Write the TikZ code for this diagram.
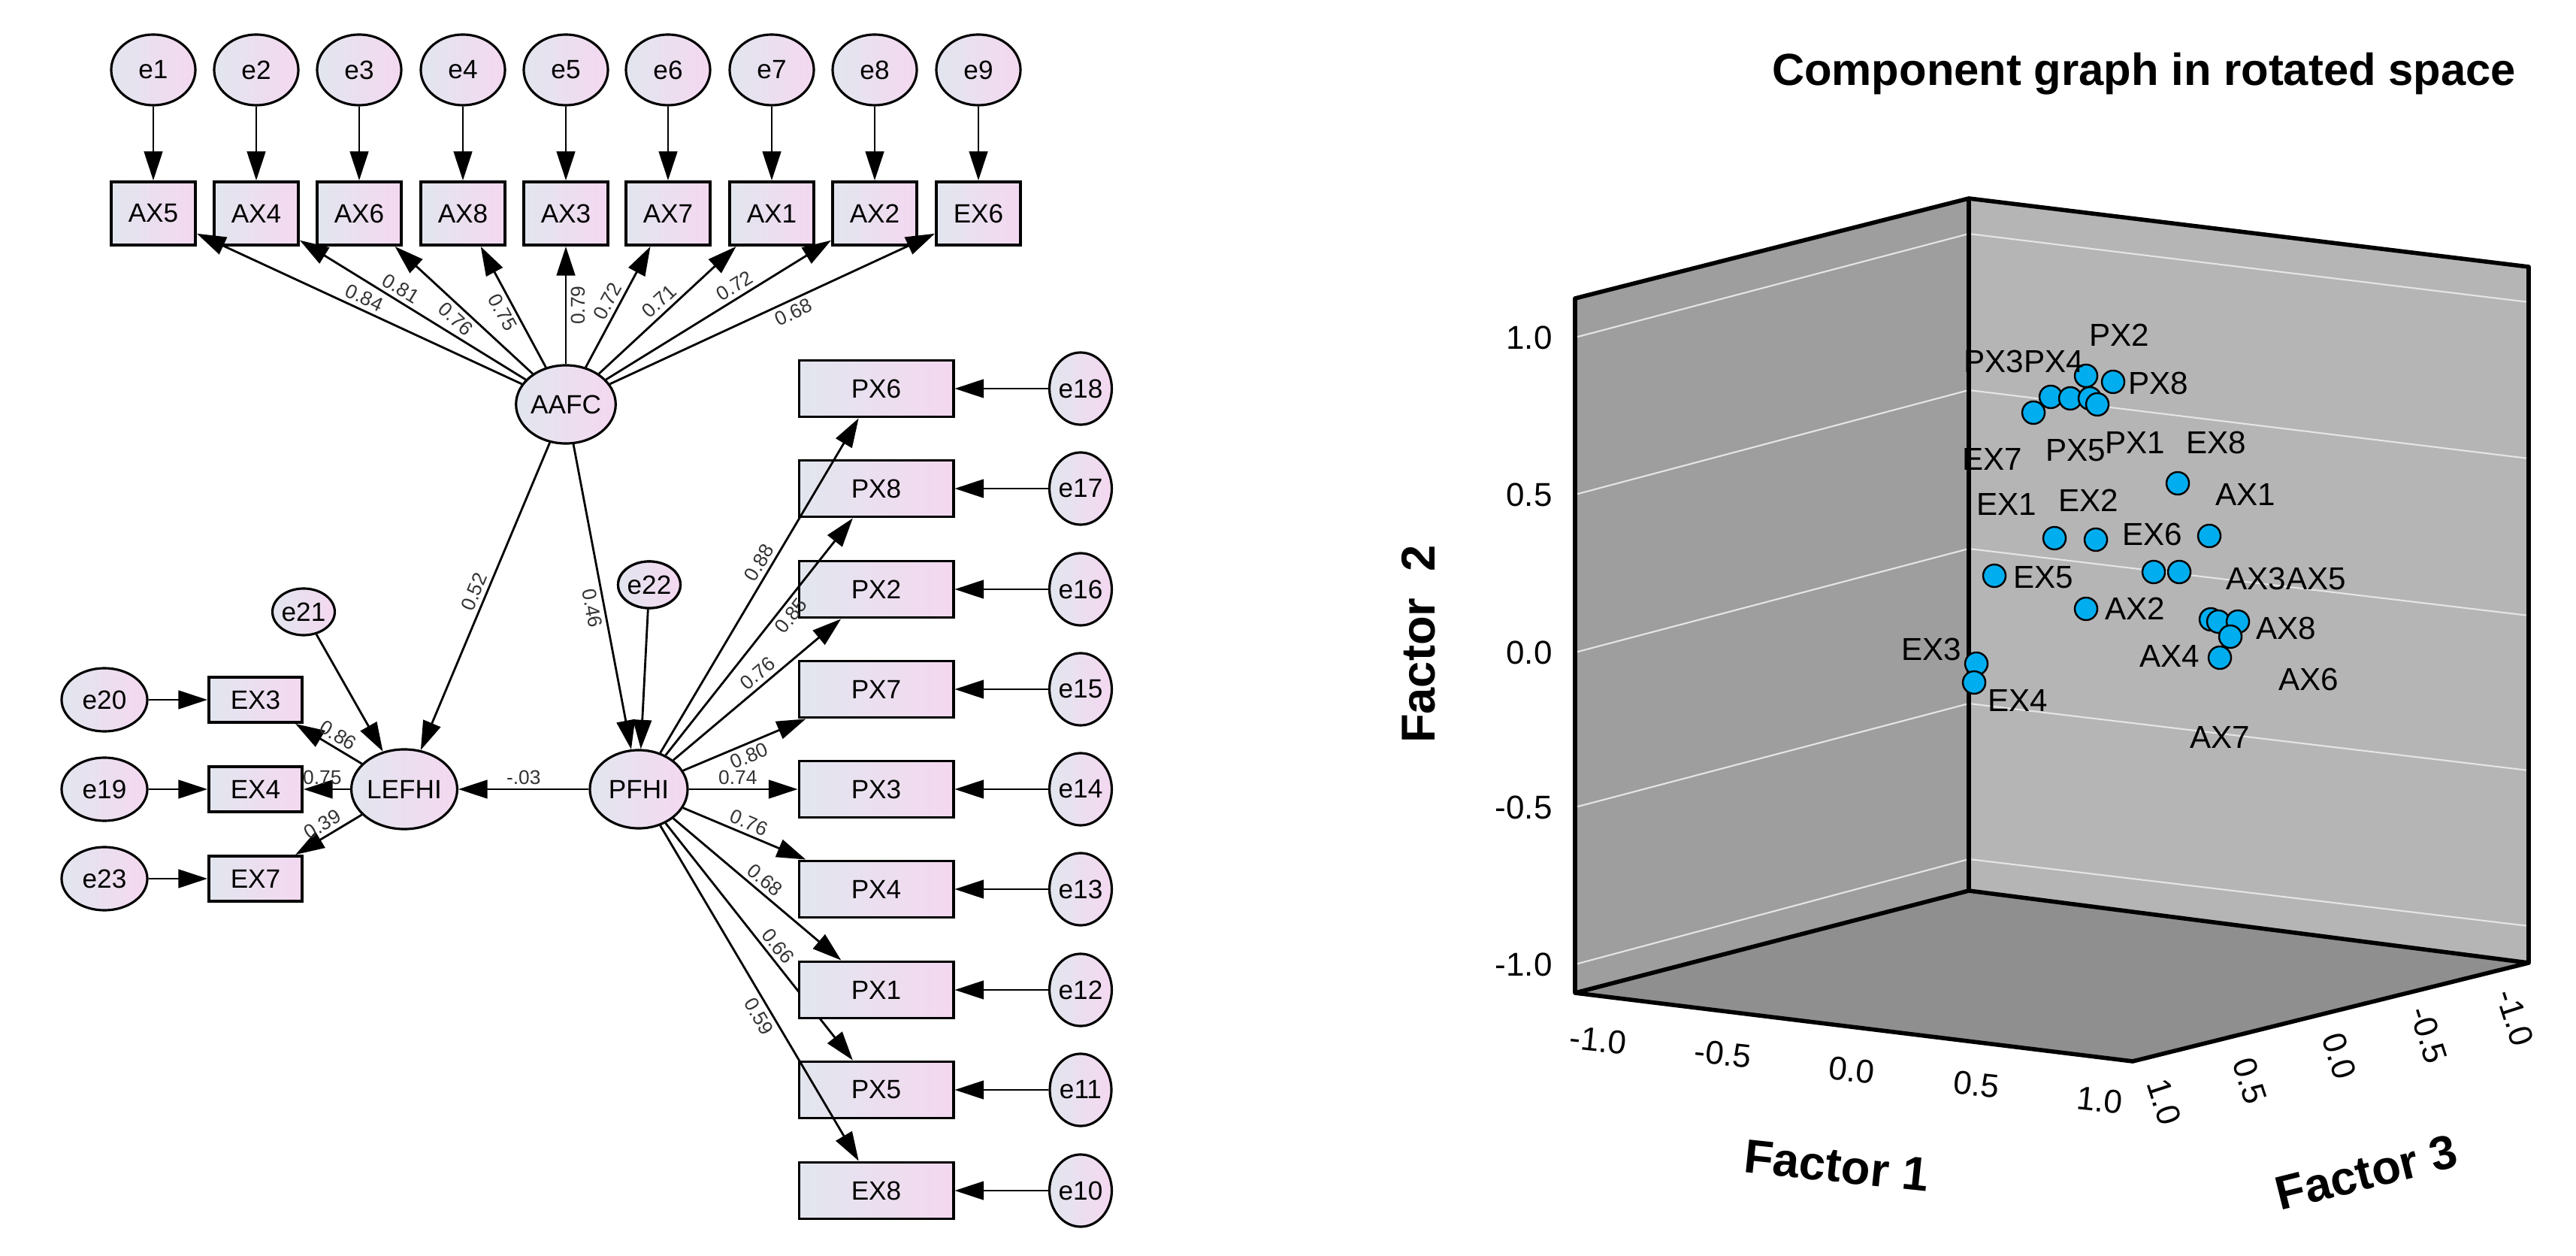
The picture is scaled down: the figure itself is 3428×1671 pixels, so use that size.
\documentclass[tikz,border=0pt]{standalone}
\usepackage{fontspec}
\setmainfont{Liberation Sans}
\usetikzlibrary{shapes.geometric,arrows.meta}
\definecolor{semA}{HTML}{E2E6EE}
\definecolor{semB}{HTML}{F4D8F0}
\definecolor{dot}{HTML}{00AEEF}
\begin{document}
\begin{tikzpicture}[x=0.01cm,y=-0.01cm,
  tip/.style={-{Triangle[length=11pt,width=7pt]}},
  con/.style={tip,line width=0.8pt},
  box/.style={draw,line width=1.1pt,left color=semA,right color=semB,inner sep=0pt,font=\fontsize{10}{10}\selectfont},
  tbox/.style={box,minimum width=1.12cm,minimum height=0.84cm},
  pbox/.style={box,minimum width=2.05cm,minimum height=0.75cm},
  lbox/.style={box,minimum width=1.24cm,minimum height=0.6cm},
  circ/.style={draw,ellipse,line width=0.9pt,left color=semA,right color=semB,inner sep=0pt,font=\fontsize{10}{10}\selectfont},
  et/.style={circ,minimum width=1.12cm,minimum height=0.94cm},
  er/.style={circ,minimum width=0.82cm,minimum height=0.96cm},
  el/.style={circ,minimum width=1.14cm,minimum height=0.84cm},
  es/.style={circ,minimum width=0.72cm,minimum height=0.62cm},
  lat/.style={circ,minimum width=1.3cm,minimum height=1.04cm},
  lab/.style={font=\fontsize{7.5}{7.5}\selectfont,text=black!80,sloped,inner sep=1.5pt},
  tick/.style={font=\fontsize{12.5}{12.5}\selectfont},
  plab/.style={font=\fontsize{12}{12}\selectfont,inner sep=0pt},
  ax/.style={font=\bfseries\fontsize{18}{18}\selectfont}]
\useasboundingbox[fill=white] (0,0) rectangle (3428,1671);
% ---------- SEM ----------
\foreach \i/\n/\x in {1/AX5/204,2/AX4/341,3/AX6/478,4/AX8/616,5/AX3/753,6/AX7/889,7/AX1/1027,8/AX2/1164,9/EX6/1302}{
  \node[et] (e\i) at (\x,93) {e\i};
  \node[tbox] (\n) at (\x,284) {\n};
  \draw[con] (e\i) -- (\n);
}
\node[lat] (AAFC) at (753,538) {AAFC};
\node[lat,minimum width=1.24cm,minimum height=1.06cm] (LEFHI) at (538,1050) {LEFHI};
\node[lat] (PFHI) at (850,1050) {PFHI};
\foreach \n/\y/\e in {PX6/517/18,PX8/650/17,PX2/784/16,PX7/917/15,PX3/1050/14,PX4/1183/13,PX1/1317/12,PX5/1450/11,EX8/1584/10}{
  \node[pbox] (\n) at (1166,\y) {\n};
  \node[er] (e\e) at (1438,\y) {e\e};
  \draw[con] (e\e) -- (\n);
}
\foreach \n/\y/\e in {EX3/931/20,EX4/1050/19,EX7/1169/23}{
  \node[lbox] (\n) at (340,\y) {\n};
  \node[el] (e\e) at (139,\y) {e\e};
  \draw[con] (e\e) -- (\n);
}
\node[es] (e21) at (404,814) {e21};
\node[es] (e22) at (864,778) {e22};
% loadings AAFC
\draw[con] (AAFC) -- node[lab,pos=0.5,above]{0.84} (AX5);
\draw[con] (AAFC) -- node[lab,pos=0.58,above]{0.81} (AX4);
\draw[con] (AAFC) -- node[lab,pos=0.5,below]{0.76} (AX6);
\draw[con] (AAFC) -- node[lab,pos=0.5,below]{0.75} (AX8);
\draw[con] (AAFC) -- node[lab,pos=0.5,below]{0.79} (AX3);
\draw[con] (AAFC) -- node[lab,pos=0.5,above]{0.72} (AX7);
\draw[con] (AAFC) -- node[lab,pos=0.5,above]{0.71} (AX1);
\draw[con] (AAFC) -- node[lab,pos=0.6,above]{0.72} (AX2);
\draw[con] (AAFC) -- node[lab,pos=0.55,below]{0.68} (EX6);
\draw[con] (AAFC) -- node[lab,pos=0.5,above]{0.52} (LEFHI);
\draw[con] (AAFC) -- node[lab,pos=0.53,below]{0.46} (PFHI);
\draw[con] (e21) -- (LEFHI);
\draw[con] (e22) -- (PFHI);
\node[es] at (e22) {e22};
% loadings PFHI
\draw[con] (PFHI) -- node[lab,pos=0.55,above]{0.88} (PX6);
\draw[con] (PFHI) -- node[lab,pos=0.62,below]{0.85} (PX8);
\draw[con] (PFHI) -- node[lab,pos=0.55,above]{0.76} (PX2);
\draw[con] (PFHI) -- node[lab,pos=0.5,below]{0.80} (PX7);
\draw[con] (PFHI) -- node[lab,pos=0.45,above]{0.74} (PX3);
\draw[con] (PFHI) -- node[lab,pos=0.5,above]{0.76} (PX4);
\draw[con] (PFHI) -- node[lab,pos=0.5,above]{0.68} (PX1);
\draw[con] (PFHI) -- node[lab,pos=0.55,above]{0.66} (PX5);
\draw[con] (PFHI) -- node[lab,pos=0.55,below]{0.59} (EX8);
\node[pbox] at (PX1) {PX1};
\draw[con] (PFHI) -- node[lab,pos=0.5,above]{-.03} (LEFHI);
% LEFHI
\draw[con] (LEFHI) -- node[lab,pos=0.45,above]{0.86} (EX3);
\draw[con] (LEFHI) -- node[lab,pos=0.6,above]{0.75} (EX4);
\draw[con] (LEFHI) -- node[lab,pos=0.5,above]{0.39} (EX7);
% ---------- 3D plot ----------
\node[font=\bfseries\fontsize{17}{17}\selectfont] (title) at (2853,98) {Component graph in rotated space};
\coordinate (A) at (2096,397); \coordinate (B) at (2620,264); \coordinate (C) at (3365,355);
\coordinate (D) at (2096,1321); \coordinate (E) at (2620,1185); \coordinate (F) at (3365,1281);
\coordinate (G) at (2838,1412);
\fill[black!38] (A) -- (B) -- (E) -- (D) -- cycle;
\fill[black!29] (B) -- (C) -- (F) -- (E) -- cycle;
\fill[black!44] (D) -- (E) -- (F) -- (G) -- cycle;
\foreach \l/\b/\r in {449/311/402,658/519/610,868/730/819,1074/936/1025,1283/1143/1232}{
  \draw[white!80!gray,line width=0.6pt] (2096,\l) -- (2620,\b) -- (3365,\r);
}
\draw[line width=1.6pt,line join=round] (D) -- (A) -- (B) -- (C) -- (F) -- (G) -- (D) -- (E) -- (F);
\draw[line width=1.6pt] (B) -- (E);
\foreach \v/\y in {1.0/449,0.5/658,0.0/868,-0.5/1074,-1.0/1283}{
  \node[tick,anchor=east] at (2078,\y) {\v};
}
\node[ax,rotate=90] (f2) at (1888,857) {Factor\ \ 2};
\foreach \v/\x/\y in {-1.0/2127/1384,-0.5/2293/1402,0.0/2464/1424,0.5/2630/1443,1.0/2794/1464}{
  \node[tick,rotate=-6] at (\x,\y) {\v};
}
\foreach \v/\x/\y in {1.0/2880/1466,0.5/2994/1438,0.0/3113/1405,-0.5/3232/1377,-1.0/3347/1354}{
  \node[tick,rotate=-72] at (\x,\y) {\v};
}
\node[ax,rotate=-6] (f1) at (2444,1551) {Factor 1};
\node[ax,rotate=14] (f3) at (3149,1560) {Factor 3};
% points
\foreach \x/\y in {2706/549,2729/528,2755/530,2776/500,2781/530,2791/538,2812/508,
  2734/716,2789/718,2654/766,2866/761,2900/761,2776/810,2898/643,2940/713,
  2942/824,2952/827,2978/827,2968/847,2954/875,2630/883,2627/908}{
  \fill[dot,draw=black,line width=0.7pt] (\x,\y) circle (15);
}
\foreach \t/\x/\y in {PX2/2820/446,PX3PX4/2693/481,PX8/2872/510,EX7/2651/611,PX5/2762/599,PX1/2841/589,
  EX8/2949/589,AX1/2988/658,EX1/2670/671,EX2/2779/666,EX6/2864/711,EX5/2719/768,AX3AX5/3042/770,
  AX2/2841/810,AX8/3042/836,AX4/2887/873,AX6/3072/904,EX3/2570/864,EX4/2685/932,AX7/2954/981}{
  \node[plab] at (\x,\y) {\t};
}
\end{tikzpicture}
\end{document}
